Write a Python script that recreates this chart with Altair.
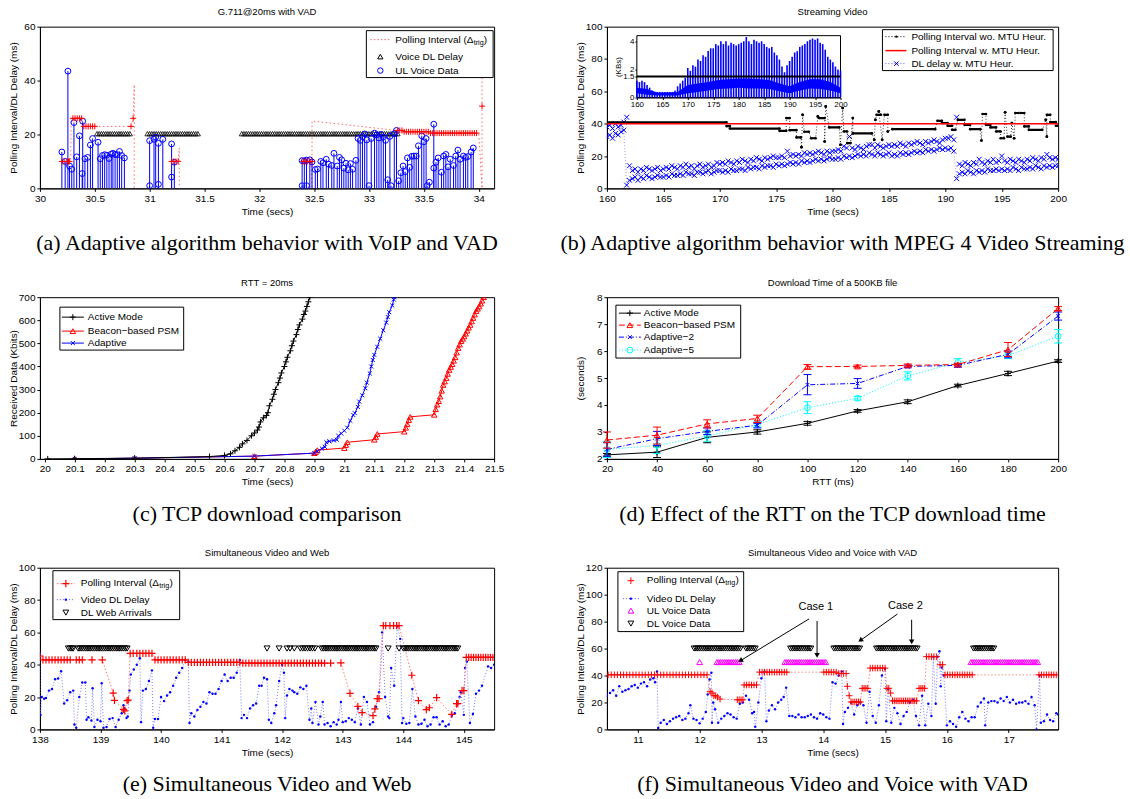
import math
import altair as alt
import pandas as pd

FONT = "Liberation Sans"
SERIF = "Liberation Serif"
WL, WR, H = 455, 452, 162
BLUE, RED, MAG, CYAN = "#0000ff", "#ff0000", "#ff00ff", "#00ffff"
LRED, LBLUE = "#ff6a6a", "#5c5cff"
PLUS = "M -1 0 L 1 0 M 0 -1 L 0 1"
XMARK = "M -1 -1 L 1 1 M -1 1 L 1 -1"
ONE = pd.DataFrame({"k": [0]})

# ---------------- (a) G.711@20ms with VAD ----------------
A_XT = [30, 30.5, 31, 31.5, 32, 32.5, 33, 33.5, 34]
A_YT = [0, 20, 40, 60]
A_UL = [(30.20, 13.5), (30.23, 10.0), (30.255, 43.5), (30.27, 8.3), (30.29, 7.1), (30.31, 24.4),
        (30.335, 11.7), (30.36, 19.5), (30.385, 5.5), (30.39, 24.9), (30.41, 11.0), (30.435, 11.5),
        (30.46, 16.1), (30.48, 18.5), (30.53, 17.1), (30.55, 11.0), (30.57, 12.2), (30.59, 12.5),
        (30.61, 12.3), (30.63, 11.1), (30.65, 12.7), (30.665, 13.0), (30.685, 12.6), (30.705, 12.5),
        (30.725, 13.7), (30.745, 12.2), (30.77, 11.3),
        (31.00, 17.7), (31.00, 1.0), (31.04, 18.2), (31.055, 19.0), (31.08, 16.7), (31.08, 1.5),
        (31.12, 18.2), (31.20, 16.5), (31.20, 4.2), (31.225, 9.7),
        (32.39, 10.3), (32.39, 1.0), (32.41, 10.2), (32.43, 10.5), (32.43, 1.0), (32.46, 10.6),
        (32.48, 9.8), (32.51, 7.0), (32.53, 7.2), (32.56, 10.0), (32.58, 9.5), (32.61, 10.8),
        (32.63, 9.0), (32.66, 8.5), (32.68, 13.0), (32.71, 8.3), (32.73, 11.5), (32.75, 10.6),
        (32.77, 7.5), (32.79, 9.3), (32.81, 6.9), (32.83, 9.2), (32.85, 7.1), (32.88, 10.4),
        (32.90, 18.5), (32.92, 17.8), (32.94, 19.2), (32.96, 20.2), (32.98, 18.0), (33.00, 1.0),
        (33.02, 18.5), (33.05, 20.5), (33.07, 19.8), (33.09, 18.7), (33.11, 20.0), (33.13, 19.0),
        (33.15, 17.8), (33.17, 3.2), (33.19, 19.3), (33.20, 1.0), (33.23, 20.3), (33.25, 21.5),
        (33.27, 2.8), (33.29, 5.8), (33.31, 8.3), (33.33, 6.2), (33.35, 11.3), (33.37, 7.8),
        (33.39, 11.9), (33.41, 12.0), (33.43, 12.0), (33.45, 15.8), (33.48, 19.5), (33.50, 17.3),
        (33.52, 18.5), (33.53, 1.0), (33.55, 2.3), (33.59, 23.8), (33.59, 7.5), (33.61, 9.7),
        (33.63, 11.3), (33.66, 6.0), (33.68, 12.0), (33.70, 12.6), (33.72, 8.0), (33.74, 10.8),
        (33.77, 8.5), (33.79, 12.0), (33.81, 14.2), (33.83, 10.8), (33.86, 12.0), (33.88, 11.5),
        (33.90, 11.8), (33.93, 13.5), (33.95, 15.0)]
A_POLL_PATH = [(0, 30.19, 10), (0, 30.28, 10), (0, 30.285, 26), (0, 30.38, 26), (0, 30.39, 23),
               (0, 30.83, 23), (0, 30.85, 26), (0, 30.86, 38.5), (0, 30.86, 0),
               (1, 31.20, 10), (1, 31.26, 10), (1, 31.27, 15), (1, 31.27, 0),
               (2, 32.40, 10), (2, 32.47, 10), (2, 32.48, 0), (2, 32.48, 25), (2, 33.25, 21.5),
               (2, 33.30, 21.5), (2, 33.31, 21), (2, 33.55, 21), (2, 33.56, 20.5), (2, 34.00, 20.5),
               (2, 34.03, 0), (2, 34.03, 41)]
A_POLL_PLUS = [(30.20, 10), (30.22, 10), (30.245, 10), (30.26, 10), (30.27, 10), (30.30, 26), (30.32, 26),
               (30.34, 26), (30.36, 26), (30.38, 26), (30.40, 23), (30.42, 23), (30.44, 23), (30.46, 23),
               (30.48, 23), (30.50, 23), (30.83, 23), (30.85, 26),
               (31.20, 10), (31.22, 10), (31.24, 10), (31.26, 10),
               (32.40, 10), (32.42, 10), (32.44, 10), (32.46, 10), (32.48, 10),
               (33.26, 21.5), (33.28, 21.5), (33.30, 21.5),
               (33.32, 21), (33.34, 21), (33.36, 21), (33.38, 21), (33.40, 21), (33.42, 21), (33.44, 21),
               (33.46, 21), (33.48, 21), (33.50, 21), (33.52, 21), (33.54, 21),
               (33.56, 20.5), (33.58, 20.5), (33.60, 20.5), (33.62, 20.5), (33.64, 20.5), (33.66, 20.5),
               (33.68, 20.5), (33.70, 20.5), (33.72, 20.5), (33.74, 20.5), (33.76, 20.5), (33.78, 20.5),
               (33.80, 20.5), (33.82, 20.5), (33.84, 20.5), (33.86, 20.5), (33.88, 20.5), (33.90, 20.5),
               (33.92, 20.5), (33.94, 20.5), (33.96, 20.5), (33.98, 20.5), (34.03, 30.5)]
A_DL_LEVEL = 20.3
A_DL_X = [30.52, 30.54, 30.56, 30.58, 30.60, 30.62, 30.64, 30.66, 30.68, 30.70, 30.72, 30.74, 30.76, 30.78,
          30.80, 30.82,
          30.98, 31.00, 31.02, 31.04, 31.06, 31.08, 31.10, 31.12, 31.14, 31.16, 31.18, 31.20, 31.22, 31.24,
          31.26, 31.28, 31.30, 31.32, 31.34, 31.36, 31.38, 31.40, 31.42, 31.44,
          31.84, 31.86, 31.88, 31.90, 31.92, 31.94, 31.96, 31.98, 32.00, 32.02, 32.04, 32.06, 32.08, 32.10,
          32.12, 32.14, 32.16, 32.18, 32.20, 32.22, 32.24, 32.26, 32.28, 32.30, 32.32, 32.34, 32.36, 32.38,
          32.40, 32.42, 32.44, 32.46, 32.48, 32.50, 32.52, 32.54, 32.56, 32.58, 32.60, 32.62, 32.64, 32.66,
          32.68, 32.70, 32.72, 32.74, 32.76, 32.78, 32.80, 32.82, 32.84, 32.86, 32.88, 32.90, 32.92, 32.94,
          32.96, 32.98, 33.00, 33.02, 33.04, 33.06, 33.08, 33.10, 33.12, 33.14, 33.16, 33.18, 33.20, 33.22,
          33.24, 33.26]

# ---------------- (b) Streaming Video ----------------
B_XT = [160, 165, 170, 175, 180, 185, 190, 195, 200]
B_YT = [0, 20, 40, 60, 80, 100]
B_CLOUD = [(160.00, 38, 32), (160.25, 39, 33), (160.50, 37, 31), (160.75, 40, 34), (161.00, 38, 33),
           (161.25, 39, 35), (161.50, 41, 36), (161.75, 44, 2), (162.00, 14, 5),
           (162.25, 11, 6), (162.50, 12, 7), (162.75, 10, 5), (163.00, 12, 7), (163.25, 11, 6), (163.50, 13, 8),
           (163.75, 12, 7), (164.00, 11, 6), (164.25, 12, 7), (164.50, 13, 8), (164.75, 11, 7), (165.00, 12, 7),
           (165.25, 13, 8), (165.50, 12, 7), (165.75, 14, 9), (166.00, 13, 8), (166.25, 12, 8), (166.50, 14, 9),
           (166.75, 13, 8), (167.00, 15, 10), (167.25, 13, 9), (167.50, 14, 9), (167.75, 12, 8), (168.00, 14, 10),
           (168.25, 15, 10), (168.50, 13, 9), (168.75, 14, 10), (169.00, 15, 11), (169.25, 13, 9), (169.50, 14, 10),
           (169.75, 16, 11), (170.00, 15, 11),
           (170.25, 16, 10), (170.50, 15, 11), (170.75, 17, 10), (171.00, 16, 12), (171.25, 15, 11), (171.50, 17, 11),
           (171.75, 16, 12), (172.00, 18, 12), (172.25, 17, 11), (172.50, 16, 13), (172.75, 18, 12), (173.00, 17, 13),
           (173.25, 19, 13), (173.50, 18, 12), (173.75, 17, 14), (174.00, 19, 13), (174.25, 18, 14), (174.50, 19, 14),
           (174.75, 20, 13), (175.00, 19, 15),
           (175.25, 19, 14), (175.50, 20, 15), (175.75, 19, 14), (176.00, 23, 15), (176.25, 20, 16), (176.50, 21, 15),
           (176.75, 20, 16), (177.00, 21, 15), (177.25, 20, 17), (177.50, 22, 16), (177.75, 21, 17), (178.00, 22, 16),
           (178.25, 21, 17), (178.50, 22, 18), (178.75, 23, 17), (179.00, 22, 18), (179.25, 21, 17), (179.50, 23, 18),
           (179.75, 22, 19), (180.00, 23, 18),
           (180.25, 23, 18), (180.50, 24, 19), (180.75, 23, 18), (181.00, 26, 20), (181.25, 25, 19), (181.50, 32, 20),
           (181.75, 25, 19), (182.00, 24, 20), (182.25, 26, 21), (182.50, 25, 20), (182.75, 24, 21), (183.00, 26, 20),
           (183.25, 27, 22), (183.50, 27, 21), (183.75, 25, 20), (184.00, 27, 22), (184.25, 26, 21), (184.50, 25, 20),
           (184.75, 26, 21), (185.00, 27, 22),
           (185.25, 26, 20), (185.50, 27, 21), (185.75, 26, 20), (186.00, 28, 22), (186.25, 27, 21), (186.50, 26, 22),
           (186.75, 28, 21), (187.00, 27, 22), (187.25, 28, 23), (187.50, 29, 22), (187.75, 28, 23), (188.00, 27, 22),
           (188.25, 29, 24), (188.50, 28, 23), (188.75, 29, 24), (189.00, 30, 23), (189.25, 29, 24), (189.50, 28, 25),
           (189.75, 30, 24), (190.00, 31, 25),
           (190.25, 31, 24), (190.50, 32, 25), (190.75, 30, 23), (191.00, 44, 6),
           (191.25, 15, 9), (191.50, 14, 10), (191.75, 16, 9), (192.00, 15, 11), (192.25, 14, 10), (192.50, 16, 9),
           (192.75, 15, 11), (193.00, 18, 10), (193.25, 16, 11), (193.50, 15, 10), (193.75, 17, 12), (194.00, 16, 11),
           (194.25, 18, 11), (194.50, 16, 12), (194.75, 17, 11), (195.00, 20, 12),
           (195.25, 17, 11), (195.50, 16, 12), (195.75, 18, 11), (196.00, 17, 13), (196.25, 16, 12), (196.50, 18, 11),
           (196.75, 17, 13), (197.00, 16, 12), (197.25, 18, 12), (197.50, 17, 13), (197.75, 19, 12), (198.00, 18, 14),
           (198.25, 17, 13), (198.50, 19, 12), (198.75, 18, 14), (199.00, 21, 13), (199.25, 19, 14), (199.50, 18, 13),
           (199.75, 19, 14), (200.00, 18, 14)]
B_SEGS = [(160.0, 170.6, 40.8), (170.6, 170.9, 38.5), (170.9, 175.3, 37.0), (175.3, 175.9, 35.6),
          (175.9, 176.2, 43.5), (176.2, 176.8, 36.0), (176.8, 177.2, 31.5), (177.25, 177.25, 25.5),
          (177.35, 177.35, 45.5), (177.5, 177.9, 35.0), (178.1, 178.5, 31.0), (178.7, 178.7, 44.5),
          (178.8, 179.3, 43.5), (179.3, 179.3, 29.0), (179.4, 179.4, 50.7), (179.7, 180.6, 37.7),
          (180.7, 180.7, 27.0), (180.9, 180.9, 49.7), (181.0, 181.3, 35.2), (181.3, 181.6, 28.0),
          (181.8, 181.8, 43.5), (181.8, 183.5, 34.0), (183.7, 183.7, 30.0), (183.8, 183.8, 42.4),
          (183.9, 184.3, 45.5), (184.1, 184.1, 47.6), (184.4, 184.4, 30.0), (184.6, 184.9, 45.5),
          (184.9, 184.9, 35.2), (185.3, 189.1, 36.6), (189.3, 189.7, 41.8), (189.7, 190.2, 40.4),
          (190.2, 190.6, 38.7), (190.6, 190.9, 36.2), (191.1, 191.7, 42.4), (191.7, 192.2, 39.3),
          (192.2, 193.1, 36.6), (193.2, 193.2, 29.6), (193.3, 193.6, 46.0), (193.6, 194.0, 39.3),
          (194.0, 194.5, 37.7), (194.5, 194.9, 35.2), (194.9, 195.2, 31.0), (195.3, 195.3, 47.0),
          (195.5, 195.8, 32.0), (195.9, 195.9, 40.4), (196.1, 196.1, 31.0), (196.2, 196.5, 46.6),
          (196.7, 197.0, 46.6), (197.0, 197.4, 38.3), (197.4, 198.6, 36.2), (198.9, 198.9, 42.4),
          (199.0, 199.0, 32.0), (199.0, 199.3, 45.5), (199.3, 199.8, 41.0), (199.8, 200.0, 38.7)]
B_RED = [(160.0, 40.0), (200.0, 40.0)]
B_IN_XT = [160, 165, 170, 175, 180, 185, 190, 195, 200]
B_IN_YT = [0, 1.5, 2, 4]
B_IN_THR = 1.5
B_IN_PEAK = [(160.0, 1.2), (160.5, 1.1), (161.0, 1.2), (161.5, 1.1), (162.0, 0.9), (162.5, 0.7), (163.0, 0.5),
             (163.5, 0.4), (164.0, 0.4), (164.5, 0.4), (165.0, 0.4), (165.5, 0.4), (166.0, 0.4), (166.5, 0.4),
             (167.0, 0.4), (167.5, 0.5), (168.0, 0.8), (168.5, 1.0), (169.0, 1.2), (169.5, 1.4), (170.0, 2.1),
             (170.5, 1.9), (171.0, 2.3), (171.5, 2.2), (172.0, 2.7), (172.5, 2.6), (173.0, 3.0), (173.5, 2.9),
             (174.0, 3.3), (174.5, 3.5), (175.0, 3.5), (175.5, 3.8), (176.0, 3.7), (176.5, 4.0), (177.0, 3.8),
             (177.5, 4.0), (178.0, 3.7), (178.5, 3.9), (179.0, 3.8), (179.5, 3.7), (180.0, 3.8), (180.5, 3.9),
             (181.0, 4.0), (181.5, 4.3), (182.0, 4.0), (182.5, 3.8), (183.0, 4.1), (183.5, 4.0), (184.0, 3.9),
             (184.5, 4.0), (185.0, 3.8), (185.5, 3.6), (186.0, 3.5), (186.5, 3.6), (187.0, 3.2), (187.5, 3.0),
             (188.0, 2.7), (188.5, 2.2), (189.0, 1.8), (189.5, 2.3), (190.0, 2.6), (190.5, 2.9), (191.0, 3.2),
             (191.5, 3.3), (192.0, 3.6), (192.5, 3.7), (193.0, 3.8), (193.5, 4.0), (194.0, 4.1), (194.5, 4.2),
             (195.0, 4.1), (195.5, 4.2), (196.0, 3.9), (196.5, 3.8), (197.0, 3.4), (197.5, 2.9), (198.0, 2.7),
             (198.5, 2.5), (199.0, 2.2), (199.5, 2.0), (200.0, 1.9)]
B_IN_FLOOR = [(160, 0.3, 0.7), (162, 0.2, 0.6), (164, 0.15, 0.35), (166, 0.15, 0.35), (168, 0.15, 0.4),
              (170, 0.3, 0.9), (172, 0.4, 1.0), (174, 0.5, 1.1), (176, 0.6, 1.25), (178, 0.65, 1.3),
              (180, 0.7, 1.35), (182, 0.65, 1.35), (184, 0.65, 1.3), (186, 0.6, 1.25), (188, 0.45, 1.0),
              (190, 0.3, 0.8), (192, 0.5, 1.1), (194, 0.65, 1.3), (196, 0.6, 1.3), (198, 0.5, 1.1), (200, 0.3, 0.7)]

# ---------------- (c) RTT = 20ms ----------------
C_XT = [20, 20.1, 20.2, 20.3, 20.4, 20.5, 20.6, 20.7, 20.8, 20.9, 21, 21.1, 21.2, 21.3, 21.4, 21.5]
C_YT = [0, 100, 200, 300, 400, 500, 600, 700]
C_ACTIVE = [(20.01, 0), (20.10, 1), (20.30, 3), (20.55, 10), (20.60, 15), (20.62, 22), (20.635, 35), (20.65, 50),
            (20.66, 65), (20.675, 80), (20.69, 100), (20.70, 112), (20.71, 125), (20.715, 138), (20.72, 160),
            (20.73, 178), (20.74, 188), (20.745, 200), (20.75, 230), (20.76, 258), (20.765, 280), (20.77, 300),
            (20.78, 330), (20.785, 350), (20.79, 372), (20.80, 400), (20.805, 420), (20.81, 440), (20.82, 468),
            (20.825, 490), (20.83, 510), (20.84, 538), (20.845, 560), (20.85, 580), (20.86, 605), (20.865, 625),
            (20.87, 640), (20.875, 660), (20.88, 680), (20.885, 700)]
C_BEACON = [(20.10, 0), (20.30, 3), (20.70, 12), (20.90, 25), (20.905, 30), (20.91, 38), (21.00, 47),
            (21.005, 60), (21.01, 72), (21.10, 83), (21.105, 95), (21.11, 108), (21.20, 118), (21.205, 135),
            (21.21, 150), (21.215, 168), (21.22, 182), (21.30, 191), (21.305, 215), (21.31, 235), (21.315, 250),
            (21.32, 270), (21.325, 295), (21.33, 320), (21.335, 335), (21.34, 350), (21.345, 368), (21.35, 385),
            (21.355, 398), (21.36, 410), (21.365, 425), (21.37, 440), (21.375, 460), (21.38, 480), (21.385, 495),
            (21.39, 510), (21.395, 520), (21.40, 530), (21.405, 542), (21.41, 555), (21.415, 568), (21.42, 580),
            (21.425, 595), (21.43, 610), (21.435, 625), (21.44, 640), (21.445, 650), (21.45, 660), (21.455, 672),
            (21.46, 685), (21.465, 700)]
C_ADAPT = [(20.10, 0), (20.30, 3), (20.70, 12), (20.90, 25), (20.91, 33), (20.925, 45), (20.935, 52), (20.94, 72),
           (20.95, 76), (20.965, 80), (20.975, 83), (20.98, 100), (20.99, 110), (21.00, 122), (21.01, 135),
           (21.02, 165), (21.03, 190), (21.035, 198), (21.045, 225), (21.05, 248), (21.06, 275), (21.07, 306),
           (21.075, 330), (21.085, 370), (21.09, 400), (21.095, 428), (21.10, 450), (21.11, 485), (21.12, 520),
           (21.13, 557), (21.14, 590), (21.145, 614), (21.15, 635), (21.16, 664), (21.165, 690), (21.167, 700)]

# ---------------- (d) Download time ----------------
D_XT = [20, 40, 60, 80, 100, 120, 140, 160, 180, 200]
D_YT = [2, 3, 4, 5, 6, 7, 8]
D_RTT = [20, 40, 60, 80, 100, 120, 140, 160, 180, 200]
D_ACTIVE = [2.15, 2.25, 2.80, 3.00, 3.32, 3.78, 4.12, 4.72, 5.17, 5.63]
D_ACTIVE_LO = [2.10, 2.05, 2.60, 2.92, 3.25, 3.73, 4.05, 4.67, 5.09, 5.58]
D_ACTIVE_HI = [2.20, 2.45, 3.00, 3.08, 3.39, 3.83, 4.19, 4.77, 5.25, 5.68]
D_BEACON = [2.70, 2.88, 3.30, 3.50, 5.42, 5.43, 5.47, 5.50, 6.05, 7.58]
D_BEACON_LO = [2.40, 2.55, 3.15, 3.35, 5.33, 5.38, 5.42, 5.45, 5.80, 7.50]
D_BEACON_HI = [3.00, 3.18, 3.45, 3.62, 5.50, 5.48, 5.52, 5.55, 6.32, 7.65]
D_AD2 = [2.35, 2.75, 3.02, 3.25, 4.75, 4.80, 5.43, 5.47, 5.88, 7.30]
D_AD2_LO = [2.10, 2.50, 2.90, 3.15, 4.38, 4.62, 5.38, 5.40, 5.75, 7.15]
D_AD2_HI = [2.60, 3.02, 3.15, 3.32, 5.13, 4.98, 5.48, 5.53, 6.00, 7.45]
D_AD5 = [2.35, 2.50, 2.85, 3.28, 3.90, 4.25, 5.08, 5.58, 5.83, 6.55]
D_AD5_LO = [2.05, 2.20, 2.65, 3.18, 3.68, 4.18, 4.93, 5.45, 5.72, 6.30]
D_AD5_HI = [2.65, 2.78, 3.05, 3.38, 4.12, 4.32, 5.23, 5.72, 5.93, 6.80]

# ---------------- (e) Simultaneous Video and Web ----------------
E_XT = [138, 139, 140, 141, 142, 143, 144, 145]
E_YT = [0, 20, 40, 60, 80, 100]
E_POLL = [(138.00, 45.4), (138.05, 43), (138.10, 43), (138.15, 43), (138.20, 43), (138.25, 43), (138.30, 43),
          (138.35, 43), (138.40, 43), (138.45, 43), (138.50, 43), (138.60, 43), (138.65, 43), (138.70, 43),
          (138.86, 43), (139.03, 43), (139.21, 22.5), (139.23, 18), (139.38, 12.4), (139.40, 11.5), (139.44, 17.8),
          (139.46, 18.2), (139.49, 47), (139.54, 47), (139.60, 47), (139.65, 47), (139.70, 47), (139.75, 47),
          (139.80, 47), (139.85, 47), (139.90, 43), (139.95, 43), (140.00, 43), (140.05, 43), (140.10, 43),
          (140.15, 43), (140.20, 43), (140.25, 43), (140.30, 43), (140.35, 43), (140.40, 43), (140.45, 41.5),
          (140.50, 41.5), (140.55, 41.5), (140.60, 41.5), (140.65, 41.5), (140.70, 41.5), (140.75, 41.5),
          (140.80, 41.5), (140.85, 41.5), (140.90, 41.5), (140.95, 41.5), (141.00, 41.5), (141.05, 41.5),
          (141.10, 41.5), (141.15, 41.5), (141.20, 41.5), (141.25, 41.5), (141.30, 41.5), (141.35, 41),
          (141.40, 41), (141.45, 41), (141.50, 41), (141.55, 41), (141.60, 41), (141.65, 41), (141.70, 41),
          (141.75, 41), (141.80, 41), (141.85, 41), (141.90, 41), (141.95, 41), (142.00, 41), (142.05, 41),
          (142.10, 41), (142.15, 41), (142.20, 41), (142.25, 41), (142.30, 41), (142.35, 41), (142.40, 41),
          (142.45, 41), (142.50, 41), (142.55, 41), (142.60, 41), (142.65, 41), (142.70, 41), (142.80, 41),
          (142.97, 41.2), (143.12, 22.3), (143.25, 14.3), (143.32, 10.4), (143.50, 8.5), (143.53, 12.7),
          (143.57, 19), (143.60, 19), (143.67, 64.2), (143.71, 64.2), (143.78, 64.2), (143.84, 64.2),
          (143.89, 64.2), (143.93, 64.2), (144.14, 33.5), (144.25, 17.8), (144.38, 12.3), (144.43, 13.4),
          (144.55, 19.6), (144.80, 9.3), (144.88, 16), (144.90, 16), (144.97, 24), (145.00, 24), (145.04, 44.5),
          (145.08, 44.5), (145.12, 44.5), (145.16, 44.5), (145.20, 44.5), (145.24, 44.5), (145.28, 44.5),
          (145.32, 44.5), (145.36, 44.5), (145.40, 44.5), (145.44, 44.5), (145.48, 44.5)]
E_VIDEO = [(138.00, 47), (138.01, 9), (138.03, 20), (138.07, 19), (138.10, 19.5), (138.15, 24), (138.20, 25),
           (138.25, 31), (138.30, 31.5), (138.35, 36), (138.40, 16), (138.45, 18), (138.50, 23), (138.55, 24),
           (138.57, 3), (138.60, 1), (138.65, 20), (138.70, 29), (138.75, 29), (138.77, 6), (138.80, 7.5),
           (138.85, 5.5), (138.87, 25.5), (138.90, 1.5), (138.95, 6), (139.00, 5), (139.02, 28.5), (139.05, 1),
           (139.10, 1.5), (139.15, 6.5), (139.20, 7), (139.25, 1.5), (139.30, 6), (139.35, 10), (139.38, 15),
           (139.40, 13), (139.43, 7), (139.45, 8), (139.48, 24), (139.50, 34), (139.55, 37), (139.60, 40),
           (139.65, 44), (139.67, 4.5), (139.70, 24), (139.75, 25), (139.80, 30), (139.85, 36.5), (139.87, 1),
           (139.90, 6.5), (139.95, 6.5), (140.00, 20), (140.05, 17.5), (140.10, 21), (140.15, 23), (140.20, 27),
           (140.25, 32), (140.30, 35), (140.35, 38), (140.40, 43), (140.45, 42), (140.47, 4), (140.50, 10),
           (140.55, 8), (140.60, 12), (140.65, 14), (140.70, 17), (140.75, 16), (140.80, 23), (140.85, 22),
           (140.90, 22), (140.95, 25), (141.00, 30), (141.05, 34), (141.10, 30), (141.15, 32), (141.20, 32),
           (141.25, 35), (141.30, 43), (141.33, 7), (141.37, 9), (141.42, 7), (141.47, 13), (141.52, 15),
           (141.57, 16), (141.62, 27), (141.66, 27), (141.70, 32), (141.75, 31), (141.78, 6), (141.82, 4),
           (141.87, 10), (141.90, 15), (141.95, 30), (142.00, 40), (142.03, 35), (142.05, 7), (142.08, 21),
           (142.12, 25), (142.17, 24), (142.20, 23), (142.25, 22), (142.30, 26), (142.35, 25), (142.40, 27),
           (142.45, 6), (142.48, 13), (142.50, 4), (142.55, 17), (142.60, 3), (142.63, 8), (142.67, 17),
           (142.70, 3), (142.75, 4), (142.80, 2), (142.85, 4.5), (142.90, 3), (142.93, 6), (142.97, 17),
           (143.00, 4.5), (143.05, 5), (143.10, 7), (143.15, 6), (143.20, 4.5), (143.25, 13), (143.30, 3),
           (143.35, 20), (143.40, 17), (143.45, 3), (143.50, 4.5), (143.55, 14), (143.60, 23), (143.65, 60),
           (143.70, 20), (143.75, 8), (143.77, 7), (143.80, 38), (143.85, 27), (143.90, 64), (143.95, 56),
           (143.98, 4), (144.00, 7), (144.05, 3.5), (144.10, 4), (144.15, 25), (144.20, 8), (144.25, 3),
           (144.30, 3.5), (144.35, 6), (144.40, 2), (144.45, 3), (144.50, 7.5), (144.55, 7.5), (144.60, 3),
           (144.65, 5), (144.70, 2), (144.75, 3), (144.80, 8.5), (144.85, 10), (144.90, 16), (144.93, 20),
           (144.95, 23), (145.00, 9), (145.02, 38), (145.05, 42), (145.10, 4), (145.15, 9.5), (145.20, 22),
           (145.25, 24), (145.30, 27), (145.40, 39), (145.45, 38), (145.50, 40)]
E_WEB_LEVEL = 50
E_WEB_X = [138.47, 138.50, 138.53, 138.55, 138.63, 138.66, 138.69, 138.72, 138.75, 138.78, 138.81, 138.84,
           138.87, 138.90, 138.93, 138.96, 138.99, 139.02, 139.05, 139.08, 139.11, 139.14, 139.17, 139.20,
           139.23, 139.26, 139.29, 139.32, 139.35, 139.38, 139.41, 139.44,
           141.75, 141.95, 142.08, 142.13, 142.20,
           142.30, 142.34, 142.38, 142.42, 142.46, 142.50, 142.54,
           142.65, 142.68, 142.71, 142.74, 142.77, 142.80, 142.83, 142.86, 142.89, 142.92, 142.95, 142.98,
           143.01, 143.04, 143.07, 143.10, 143.13, 143.16, 143.19, 143.22, 143.25, 143.28, 143.31, 143.34,
           143.37, 143.40, 143.43, 143.46, 143.49, 143.52, 143.55,
           143.75, 143.93,
           144.00, 144.03, 144.06, 144.09, 144.12, 144.15, 144.18, 144.21, 144.24, 144.27, 144.30, 144.33,
           144.36, 144.39, 144.42, 144.45, 144.48, 144.51, 144.54, 144.57, 144.60, 144.63, 144.66, 144.69,
           144.72, 144.75, 144.78, 144.81, 144.84, 144.87, 144.90]

# ---------------- (f) Simultaneous Video and Voice with VAD ----------------
F_XT = [11, 12, 13, 14, 15, 16, 17]
F_YT = [0, 20, 40, 60, 80, 100, 120]
F_POLL = [(10.52, 40.5), (10.57, 40.5), (10.62, 40.5), (10.67, 40.5), (10.72, 40.5), (10.77, 40.5), (10.82, 40.5),
          (10.87, 40.5), (10.92, 40.5), (10.97, 40.5), (11.02, 40.5), (11.07, 40.5), (11.12, 40.5), (11.17, 40.5),
          (11.22, 40.5), (11.27, 40.5), (11.32, 40.5), (11.37, 40.5), (11.42, 40.5), (11.47, 40.5), (11.52, 40.5),
          (11.57, 40.5), (11.62, 40.5), (11.67, 40.5), (11.72, 40.5), (11.77, 40.5), (11.82, 40.5), (11.87, 40.5),
          (11.92, 40.5), (11.97, 40.5), (12.02, 40.5), (12.07, 40.5), (12.12, 40.5),
          (12.17, 28), (12.20, 27), (12.23, 25), (12.26, 25), (12.29, 24), (12.33, 22.5),
          (12.61, 22), (12.64, 22), (12.67, 22), (12.70, 22),
          (12.72, 33), (12.76, 33), (12.80, 33), (12.84, 33), (12.88, 33), (12.92, 33),
          (12.97, 42.5), (13.01, 42.5), (13.05, 42.5), (13.09, 42.5), (13.13, 42.5), (13.17, 42.5), (13.21, 42.5),
          (13.25, 42.5), (13.29, 42.5), (13.33, 42.5), (13.37, 42.5), (13.41, 42.5),
          (14.01, 42.5), (14.05, 42.5), (14.09, 42.5), (14.13, 42.5), (14.17, 42.5), (14.21, 42.5),
          (14.25, 41.5), (14.29, 41.5), (14.33, 41.5), (14.37, 41.5), (14.39, 32), (14.42, 25),
          (14.45, 20.4), (14.48, 20.4), (14.51, 20.4), (14.54, 20.4), (14.57, 20.4), (14.60, 20.4),
          (14.63, 30.5), (14.66, 30.5), (14.69, 30.5), (14.72, 30.5),
          (14.76, 45.5), (14.80, 45.5), (14.84, 45.5), (14.88, 45.5), (14.92, 45.5), (14.96, 45.5), (15.00, 45.5),
          (15.03, 30.5), (15.06, 30.5), (15.09, 27),
          (15.12, 21.2), (15.15, 21.2), (15.18, 21.2), (15.21, 21.2), (15.24, 21.2), (15.27, 21.2), (15.30, 21.2),
          (15.33, 21.2), (15.36, 21.2), (15.39, 21.2), (15.42, 21.2), (15.45, 21.2), (15.48, 21.2), (15.51, 21.2),
          (15.55, 30.5), (15.58, 30.5), (15.61, 30.5), (15.64, 30.5),
          (15.67, 54), (15.71, 54), (15.75, 54), (15.79, 54), (15.83, 54), (15.89, 48), (15.93, 48),
          (15.97, 40.5), (16.01, 40.5), (16.05, 40.5), (16.09, 40.5), (16.13, 40.5), (16.17, 40.5), (16.21, 40.5),
          (16.25, 40.5), (16.29, 40.5), (16.33, 40.5), (16.37, 40.5), (16.41, 40.5),
          (17.49, 40.5), (17.53, 40.5), (17.57, 40.5), (17.61, 40.5), (17.65, 40.5), (17.69, 40.5), (17.73, 40.5),
          (17.77, 40.5)]
F_VIDEO = [(10.50, 25), (10.55, 27), (10.60, 29), (10.65, 25), (10.70, 32), (10.75, 28), (10.80, 29), (10.85, 30),
           (10.90, 32), (10.95, 33), (11.00, 31), (11.05, 34), (11.10, 35), (11.15, 32), (11.20, 37), (11.25, 38),
           (11.28, 35), (11.31, 43), (11.33, 1), (11.37, 5), (11.42, 7), (11.47, 4), (11.52, 6), (11.57, 8),
           (11.62, 9), (11.67, 10), (11.72, 7), (11.77, 8), (11.82, 12), (11.85, 18), (11.90, 8), (11.95, 7),
           (12.00, 4.5), (12.05, 8), (12.10, 13), (12.13, 26), (12.16, 37), (12.19, 42), (12.20, 5), (12.22, 20),
           (12.25, 15), (12.30, 5), (12.35, 8), (12.40, 10), (12.45, 12), (12.50, 11), (12.55, 9), (12.60, 8),
           (12.65, 19), (12.70, 20), (12.75, 25), (12.80, 22), (12.85, 12), (12.88, 13), (12.90, 2), (12.95, 20),
           (13.00, 38), (13.05, 43), (13.08, 6), (13.12, 14), (13.17, 18), (13.22, 15), (13.27, 20), (13.32, 22),
           (13.36, 24), (13.40, 31), (13.45, 10), (13.50, 10), (13.55, 9), (13.60, 11), (13.65, 9), (13.70, 9),
           (13.75, 10), (13.80, 11), (13.85, 9), (13.90, 8), (13.95, 12), (14.00, 11), (14.05, 9), (14.10, 8),
           (14.15, 35), (14.20, 34), (14.25, 40), (14.30, 43), (14.32, 4), (14.35, 13), (14.40, 16), (14.45, 20),
           (14.50, 11), (14.55, 18), (14.60, 20), (14.65, 18), (14.70, 5), (14.75, 28), (14.80, 10), (14.85, 5),
           (14.90, 18), (14.95, 40), (15.00, 45), (15.02, 6), (15.05, 30), (15.10, 5), (15.15, 16), (15.20, 12),
           (15.25, 4), (15.30, 10), (15.35, 13), (15.40, 20), (15.45, 22), (15.50, 10), (15.55, 3), (15.60, 25),
           (15.65, 3), (15.70, 19), (15.75, 10), (15.78, 54), (15.82, 19), (15.85, 54), (15.88, 58), (15.90, 32),
           (15.92, 46), (15.95, 40), (16.00, 3), (16.05, 6), (16.10, 4), (16.15, 2), (16.20, 9), (16.25, 13),
           (16.30, 8), (16.35, 6), (16.40, 9), (16.45, 9), (16.50, 17), (16.55, 20), (16.60, 23), (16.62, 3),
           (16.67, 20), (16.72, 21), (16.77, 21), (16.82, 20), (16.87, 23), (16.92, 21), (16.97, 24), (17.02, 20),
           (17.07, 22), (17.12, 19), (17.17, 20), (17.22, 20), (17.27, 21), (17.32, 19), (17.37, 24), (17.42, 18),
           (17.45, 0), (17.50, 40), (17.52, 5), (17.57, 6), (17.62, 11), (17.67, 7), (17.72, 6), (17.77, 12),
           (17.80, 11)]
F_DL_LEVEL = 60
F_DL_X = [11.91, 11.94, 11.97, 12.00, 12.03, 12.06, 12.09, 12.12, 12.15, 12.18, 12.21, 12.24, 12.27, 12.30,
          12.33, 12.36, 12.39, 12.42, 12.45, 12.48, 12.51, 12.54, 12.57, 12.60, 12.63, 12.66,
          12.75, 12.78, 12.81, 12.84, 12.87, 12.90,
          13.47, 13.50, 13.53, 13.56, 13.59, 13.62, 13.65, 13.68, 13.71, 13.74, 13.77, 13.80,
          14.17, 14.20, 14.23, 14.26, 14.29, 14.32, 14.35, 14.38, 14.41, 14.44, 14.47, 14.50, 14.53, 14.56, 14.59,
          14.86, 14.89, 14.92, 14.95, 14.98, 15.01, 15.04, 15.07, 15.10, 15.13, 15.16, 15.19, 15.22, 15.25,
          15.28, 15.31, 15.34, 15.37, 15.40, 15.43, 15.46, 15.49, 15.52,
          16.43, 16.46, 16.49, 16.52, 16.55, 16.58, 16.61, 16.64, 16.67, 16.70, 16.73, 16.76]
F_UL_LEVEL = 50
F_UL_X = [12.00,
          12.28, 12.31, 12.34, 12.37, 12.40, 12.43, 12.46, 12.49, 12.52, 12.55, 12.58, 12.61, 12.64,
          13.38, 13.41, 13.44, 13.47, 13.50, 13.53, 13.56, 13.59, 13.62, 13.65, 13.68, 13.71, 13.74, 13.77,
          13.80, 13.83, 13.86, 13.89, 13.92, 13.95, 13.98, 14.01, 14.04,
          16.39, 16.42, 16.45, 16.48, 16.51, 16.54, 16.57, 16.60, 16.63, 16.66, 16.69, 16.72, 16.75, 16.78,
          16.81, 16.84, 16.87, 16.90, 16.93, 16.96, 16.99, 17.02, 17.05, 17.08, 17.11, 17.14, 17.17, 17.20,
          17.23, 17.26, 17.29, 17.32, 17.35, 17.38, 17.41, 17.44, 17.47]
F_CASE_TEXT = [(13.88, 90.5, "Case 1"), (15.33, 91.7, "Case 2")]
F_ARROWS = [(13.77, 82.0, 12.66, 51.0), (13.90, 80.5, 13.90, 55.0), (15.20, 85.6, 14.60, 66.0), (15.43, 81.4, 15.43, 65.0)]


# ---------------- helpers ----------------
def df_xy(pairs, cols=("x", "y")):
    d = pd.DataFrame(pairs, columns=list(cols))
    d["i"] = range(len(d))
    return d


def make_xy(xdom, xvals, xtitle, ydom, yvals, ytitle, xfmt="d", yfmt="d"):
    sx = alt.Scale(domain=xdom, nice=False, zero=False)
    sy = alt.Scale(domain=ydom, nice=False, zero=False)
    ax = alt.Axis(values=xvals, title=xtitle, format=xfmt, labelFlush=False)
    ay = alt.Axis(values=yvals, title=ytitle, format=yfmt, labelFlush=False)
    return (lambda f: alt.X(f"{f}:Q", scale=sx, axis=ax)), (lambda f: alt.Y(f"{f}:Q", scale=sy, axis=ay))


def pts(df, X, Y, shape, color, size, filled=False, sw=1.0, clip=True, yf="y"):
    return alt.Chart(df).mark_point(shape=shape, color=color, size=size, filled=filled, strokeWidth=sw,
                                    opacity=1, clip=clip).encode(x=X("x"), y=Y(yf))


def line(df, X, Y, color, dash=None, width=1.0, detail=False):
    kw = dict(color=color, strokeWidth=width, clip=True)
    if dash:
        kw["strokeDash"] = dash
    enc = dict(x=X("x"), y=Y("y"), order=alt.Order("i:Q"))
    if detail:
        enc["detail"] = "seg:N"
    return alt.Chart(df).mark_line(**kw).encode(**enc)


def lg_box(x1, y1, x2, y2):
    return alt.Chart(ONE).mark_rect(fill="white", stroke="black", strokeWidth=1).encode(
        x=alt.value(x1), x2=alt.value(x2), y=alt.value(y1), y2=alt.value(y2))


def lg_line(x1, x2, y, color, dash=None, width=1.0):
    kw = dict(color=color, strokeWidth=width)
    if dash:
        kw["strokeDash"] = dash
    return alt.Chart(ONE).mark_rule(**kw).encode(x=alt.value(x1), x2=alt.value(x2), y=alt.value(y))


def lg_pt(x, y, shape, color, size=30, filled=False, sw=1.0):
    return alt.Chart(ONE).mark_point(shape=shape, color=color, size=size, filled=filled, strokeWidth=sw,
                                     opacity=1).encode(x=alt.value(x), y=alt.value(y))


def lg_text(x, y, txt, size=10):
    return alt.Chart(ONE).mark_text(align="left", baseline="middle", font=FONT, fontSize=size,
                                    color="black").encode(x=alt.value(x), y=alt.value(y), text=alt.value(txt))


def lg_poll(x, y, size=10):
    w1 = 7.85 * size
    sub = size * 0.72
    w2 = 1.42 * sub
    return [lg_text(x, y, "Polling Interval (Δ", size), lg_text(x + w1, y + size * 0.38, "trig", sub),
            lg_text(x + w1 + w2, y, ")", size)]


def caption(txt, w, dx=0):
    return alt.Chart(ONE).mark_text(font=SERIF, fontSize=22, color="black", align="center",
                                    baseline="middle").encode(x=alt.value(w / 2 + dx), y=alt.value(H + 55),
                                                              text=alt.value(txt))


YT_POLL = "Polling Interval/DL Delay (ms)"

# ---------------- panel (a) ----------------
X, Y = make_xy([30, 34.14], A_XT, "Time (secs)", [0, 60], A_YT, YT_POLL, xfmt=".1~f")
d_ul = df_xy(A_UL)
d_apath = df_xy(A_POLL_PATH, ("seg", "x", "y"))
d_aplus = df_xy(A_POLL_PLUS)
d_atri = pd.DataFrame({"x": A_DL_X, "y": A_DL_LEVEL})
pa = alt.layer(
    pts(d_atri, X, Y, "triangle-up", "black", 26, sw=0.8),
    line(d_apath, X, Y, LRED, [1.5, 2.5], 1.0, detail=True),
    alt.Chart(d_ul).mark_rule(color=BLUE, strokeWidth=1, clip=True).encode(x=X("x"), y=Y("y"), y2=alt.datum(0)),
    pts(d_ul, X, Y, "circle", BLUE, 34),
    pts(d_aplus, X, Y, PLUS, RED, 36),
    lg_box(327, 4, 454, 51), lg_line(331, 350, 13, LRED, [1.5, 2]), *lg_poll(356, 13),
    lg_pt(341, 30, "triangle-up", "black", 28), lg_text(356, 30, "Voice DL Delay"),
    lg_pt(341, 44, "circle", BLUE, 30), lg_text(356, 44, "UL Voice Data"),
    caption("(a) Adaptive algorithm behavior with VoIP and VAD", WL),
).properties(width=WL, height=H, title="G.711@20ms with VAD")

# ---------------- panel (b) ----------------
X, Y = make_xy([160, 200], B_XT, "Time (secs)", [0, 100], B_YT, YT_POLL)
d_cloud = pd.DataFrame(B_CLOUD, columns=["x", "hi", "lo"])
d_cl = pd.concat([d_cloud[["x", "hi"]].rename(columns={"hi": "y"}),
                  d_cloud[["x", "lo"]].rename(columns={"lo": "y"})], ignore_index=True)
d_cl_line = d_cloud[["x", "lo"]].rename(columns={"lo": "y"}).copy()
d_cl_line["i"] = range(len(d_cl_line))
d_segs = pd.DataFrame(B_SEGS, columns=["s", "e", "lvl"])
path = []
for s, e, l in B_SEGS:
    path.append((s, l))
    path.append((e, l))
d_bpath = df_xy(path)
d_bred = df_xy(B_RED)
b_main = alt.layer(
    line(d_cl_line, X, Y, LBLUE, [1, 2], 0.6),
    alt.Chart(d_cl).mark_point(shape=XMARK, color=BLUE, size=24, strokeWidth=1, opacity=1, clip=True).encode(
        x=X("x"), y=Y("y")),
    line(d_bpath, X, Y, "black", [1, 2], 0.8),
    alt.Chart(d_segs).mark_rule(color="black", strokeWidth=2.2, clip=True).encode(
        x=X("s"), x2="e:Q", y=Y("lvl")),
    alt.Chart(d_bpath).mark_circle(color="black", size=7, opacity=1, clip=True).encode(x=X("x"), y=Y("y")),
    line(d_bred, X, Y, RED, None, 1.5),
    lg_box(276, 3, 447, 44),
    lg_line(279, 300, 10, "black", [1, 2]), lg_pt(290, 10, "circle", "black", 6, filled=True),
    lg_text(305, 10, "Polling Interval wo. MTU Heur."),
    lg_line(279, 300, 24, RED, None, 1.5), lg_text(305, 24, "Polling Interval w. MTU Heur."),
    lg_line(279, 300, 37, LBLUE, [1, 2]), lg_pt(290, 37, XMARK, BLUE, 20),
    lg_text(305, 37, "DL delay w. MTU Heur."),
    caption("(b) Adaptive algorithm behavior with MPEG 4 Video Streaming", WR, 10),
)
IN_L, IN_R, IN_T, IN_B = 30, 234, 9, 71
isx = alt.Scale(domain=[160, 200], range=[IN_L, IN_R], nice=False, zero=False)
isy = alt.Scale(domain=[0, 4.4], range=[IN_B, IN_T], nice=False, zero=False)
iax = alt.Axis(values=B_IN_XT, orient="bottom", offset=-(H - IN_B), labelFontSize=8, tickSize=2, labelPadding=1,
               title=None, format="d", labelFlush=False)
iay = alt.Axis(values=B_IN_YT, orient="left", offset=-IN_L, labelFontSize=8, tickSize=2, labelPadding=1,
               title="(KBs)", titleFontSize=8, titleX=-14, format=".1~f", labelFlush=False)
IX = lambda f: alt.X(f"{f}:Q", scale=isx, axis=iax)
IY = lambda f: alt.Y(f"{f}:Q", scale=isy, axis=iay)
d_peak = pd.DataFrame(B_IN_PEAK, columns=["x", "v"])
d_floor = pd.DataFrame(B_IN_FLOOR, columns=["x", "lo", "hi"])
d_thr = pd.DataFrame({"x": [160], "x2": [200], "v": [B_IN_THR]})
b_inset = alt.layer(
    lg_box(IN_L, IN_T, IN_R, IN_B),
    alt.Chart(d_peak).mark_rule(color=BLUE, strokeWidth=1.6).encode(x=IX("x"), y=IY("v"), y2=alt.datum(0)),
    alt.Chart(d_floor).mark_area(color=BLUE, opacity=1).encode(x=IX("x"), y=IY("lo"), y2="hi:Q"),
    alt.Chart(d_thr).mark_rule(color="black", strokeWidth=2).encode(x=IX("x"), x2="x2:Q", y=IY("v")),
)
pb = alt.layer(b_main, b_inset).resolve_scale(x="independent", y="independent").properties(
    width=WR, height=H, title="Streaming Video")

# ---------------- panel (c) ----------------
X, Y = make_xy([19.984, 21.5], C_XT, "Time (secs)", [0, 700], C_YT, "Received Data (Kbits)", xfmt=".1~f")
d_ca, d_cb, d_cd = df_xy(C_ACTIVE), df_xy(C_BEACON), df_xy(C_ADAPT)
pc = alt.layer(
    line(d_cb, X, Y, RED), line(d_cd, X, Y, BLUE), line(d_ca, X, Y, "black"),
    pts(d_cb, X, Y, "triangle-up", RED, 30), pts(d_cd, X, Y, XMARK, BLUE, 16),
    pts(d_ca, X, Y, PLUS, "black", 36),
    lg_box(20, 10, 144, 53),
    lg_line(22, 44, 20, "black"), lg_pt(33, 20, PLUS, "black", 36), lg_text(48, 20, "Active Mode"),
    lg_line(22, 44, 34, RED), lg_pt(33, 34, "triangle-up", RED, 30), lg_text(48, 34, "Beacon−based PSM"),
    lg_line(22, 44, 46, BLUE), lg_pt(33, 46, XMARK, BLUE, 16), lg_text(48, 46, "Adaptive"),
    caption("(c) TCP download comparison", WL),
).properties(width=WL, height=H, title="RTT = 20ms")

# ---------------- panel (d) ----------------
X, Y = make_xy([20, 200], D_XT, "RTT (ms)", [2, 8], D_YT, "(seconds)")


def d_series(vals, lo, hi, color, dash, shape, size):
    d = pd.DataFrame({"x": D_RTT, "y": vals, "lo": lo, "hi": hi})
    d["i"] = range(len(d))
    return [
        line(d, X, Y, color, dash, 1.0),
        alt.Chart(d).mark_rule(color=color, strokeWidth=1).encode(x=X("x"), y=Y("lo"), y2="hi:Q"),
        alt.Chart(d).mark_rule(color=color, strokeWidth=1, xOffset=-4, x2Offset=4).encode(
            x=X("x"), x2="x:Q", y=Y("lo")),
        alt.Chart(d).mark_rule(color=color, strokeWidth=1, xOffset=-4, x2Offset=4).encode(
            x=X("x"), x2="x:Q", y=Y("hi")),
        pts(d, X, Y, shape, color, size, clip=False),
    ]


pd_ = alt.layer(
    *d_series(D_ACTIVE, D_ACTIVE_LO, D_ACTIVE_HI, "black", None, PLUS, 36),
    *d_series(D_AD5, D_AD5_LO, D_AD5_HI, CYAN, [1, 2], "circle", 34),
    *d_series(D_AD2, D_AD2_LO, D_AD2_HI, BLUE, [5, 2, 1, 2], XMARK, 14),
    *d_series(D_BEACON, D_BEACON_LO, D_BEACON_HI, RED, [6, 3], "triangle-up", 32),
    lg_box(9, 8, 134, 61),
    lg_line(12, 34, 16, "black"), lg_pt(23, 16, PLUS, "black", 36), lg_text(37, 16, "Active Mode"),
    lg_line(12, 34, 28, RED, [6, 3]), lg_pt(23, 28, "triangle-up", RED, 32), lg_text(37, 28, "Beacon−based PSM"),
    lg_line(12, 34, 40, BLUE, [5, 2, 1, 2]), lg_pt(23, 40, XMARK, BLUE, 14), lg_text(37, 40, "Adaptive−2"),
    lg_line(12, 34, 53, CYAN, [1, 2]), lg_pt(23, 53, "circle", CYAN, 34), lg_text(37, 53, "Adaptive−5"),
    caption("(d) Effect of the RTT on the TCP download time", WR),
).properties(width=WR, height=H, title="Download Time of a 500KB file")

# ---------------- panel (e) ----------------
X, Y = make_xy([138, 145.5], E_XT, "Time (secs)", [0, 100], E_YT, YT_POLL)
d_ep, d_ev = df_xy(E_POLL), df_xy(E_VIDEO)
d_ew = pd.DataFrame({"x": E_WEB_X, "y": E_WEB_LEVEL})
pe = alt.layer(
    line(d_ev, X, Y, LBLUE, [1, 2], 0.8),
    alt.Chart(d_ev).mark_circle(color=BLUE, size=6, opacity=1, clip=True).encode(x=X("x"), y=Y("y")),
    line(d_ep, X, Y, LRED, [1.5, 2], 0.9),
    pts(d_ep, X, Y, PLUS, RED, 52, sw=1.2),
    pts(d_ew, X, Y, "triangle-down", "black", 36, sw=1),
    lg_box(13, 3, 140, 52),
    lg_line(17, 35, 16, LRED, [1.5, 2]), lg_pt(26, 16, PLUS, RED, 52, sw=1.2), *lg_poll(41, 15),
    lg_line(17, 35, 32, LBLUE, [1, 2]), lg_pt(26, 32, "circle", BLUE, 6, filled=True),
    lg_text(41, 32, "Video DL Delay"),
    lg_pt(26, 45, "triangle-down", "black", 34), lg_text(41, 45, "DL Web Arrivals"),
    caption("(e) Simultaneous Video and Web", WL),
).properties(width=WL, height=H, title="Simultaneous Video and Web")

# ---------------- panel (f) ----------------
FX_DOM, FY_DOM = [10.5, 17.8], [0, 120]
X, Y = make_xy(FX_DOM, F_XT, "Time (secs)", FY_DOM, F_YT, YT_POLL)
d_fp, d_fv = df_xy(F_POLL), df_xy(F_VIDEO)
d_fdl = pd.DataFrame({"x": F_DL_X, "y": F_DL_LEVEL})
d_ful = pd.DataFrame({"x": F_UL_X, "y": F_UL_LEVEL})
pxu = WR / (FX_DOM[1] - FX_DOM[0])
pyu = H / (FY_DOM[1] - FY_DOM[0])
arr = []
for x1, y1, x2, y2 in F_ARROWS:
    ang = math.degrees(math.atan2((x2 - x1) * pxu, (y2 - y1) * pyu)) % 360
    arr.append({"x1": x1, "y1": y1, "x": x2, "y": y2, "ang": ang})
d_arr = pd.DataFrame(arr)
d_case = pd.DataFrame(F_CASE_TEXT, columns=["x", "y", "t"])
pf = alt.layer(
    line(d_fv, X, Y, LBLUE, [1, 2], 0.8),
    alt.Chart(d_fv).mark_circle(color=BLUE, size=6, opacity=1, clip=True).encode(x=X("x"), y=Y("y")),
    line(d_fp, X, Y, LRED, [1.5, 2], 0.8),
    pts(d_fp, X, Y, PLUS, RED, 44),
    pts(d_ful, X, Y, "triangle-up", MAG, 34),
    pts(d_fdl, X, Y, "triangle-down", "black", 34),
    alt.Chart(d_arr).mark_rule(color="black", strokeWidth=1).encode(x=X("x1"), y=Y("y1"), x2="x:Q", y2="y:Q"),
    alt.Chart(d_arr).mark_point(shape="triangle-up", filled=True, color="black", size=30, opacity=1).encode(
        x=X("x"), y=Y("y"), angle=alt.Angle("ang:Q", scale=None)),
    alt.Chart(d_case).mark_text(font=FONT, fontSize=11, color="black").encode(x=X("x"), y=Y("y"), text="t:N"),
    lg_box(11, 4, 137, 64),
    lg_pt(24, 13, PLUS, RED, 44), *lg_poll(40, 12),
    lg_line(16, 33, 31, LBLUE, [1, 2]), lg_pt(24, 31, "circle", BLUE, 6, filled=True),
    lg_text(40, 31, "Video DL Delay"),
    lg_pt(24, 43, "triangle-up", MAG, 34), lg_text(40, 43, "UL Voice Data"),
    lg_pt(24, 56, "triangle-down", "black", 34), lg_text(40, 56, "DL Voice Data"),
    caption("(f) Simultaneous Video and Voice with VAD", WR),
).properties(width=WR, height=H, title="Simultaneous Video and Voice with VAD")

chart = alt.concat(pa, pb, pc, pd_, pe, pf, columns=2, spacing={"row": 109, "column": 113}, bounds="flush",
                   padding={"left": 8, "top": 6, "right": 4, "bottom": 4}
                   ).configure_view(stroke="black", strokeWidth=1
                   ).configure_axis(labelFont=FONT, titleFont=FONT, labelFontSize=10, titleFontSize=10,
                                    titleFontWeight="normal", labelColor="black", titleColor="black",
                                    tickColor="black", domainColor="black", tickSize=3, labelPadding=2,
                                    titlePadding=3, grid=False, labelOverlap=False
                   ).configure_axisLeft(titleX=-21
                   ).configure_title(font=FONT, fontSize=9.5, fontWeight="normal", color="black", offset=5)

chart.save("out.html", embed_options={"renderer": "svg", "actions": False})
